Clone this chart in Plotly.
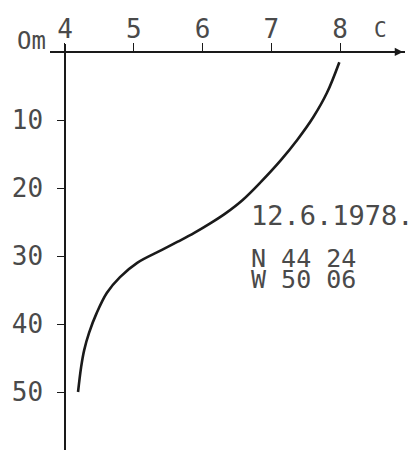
import plotly.graph_objects as go

# Data (temperature profile)
depth_m = [1.5, 6.0, 9.6, 12.9, 15.9, 19.1, 21.8, 23.7, 25.1, 26.6, 27.9, 29.1, 31.0, 33.1, 35.4, 38.4, 41.3, 43.8, 46.3, 50.0]
temp_c = [7.99, 7.81, 7.61, 7.38, 7.14, 6.85, 6.58, 6.34, 6.13, 5.88, 5.64, 5.41, 5.05, 4.80, 4.61, 4.46, 4.35, 4.28, 4.235, 4.19]

x_ticks = [4, 5, 6, 7, 8]
x_tick_text = ["4", "5", "6", "7", "8"]
y_ticks = [10, 20, 30, 40, 50]
y_tick_text = ["10", "20", "30", "40", "50"]

info_lines = ["12.6.1978.", "N 44 24", "W 50 06"]
info_depths = [24.0, 30.3, 33.4]
info_sizes = [27, 25, 25]

FONT = "DejaVu Sans Mono"
TXT = "#4a4a4a"
INK = "#1a1a1a"

fig = go.Figure()
fig.add_trace(go.Scatter(
    x=temp_c, y=depth_m, mode="lines",
    line=dict(color=INK, width=2.6, shape="spline", smoothing=1.0),
    hoverinfo="skip", showlegend=False,
))

# page body adds an 8px offset; plot area sits at window px x 50..405, y 44..450
fig.update_layout(
    width=417, height=450,
    margin=dict(l=42, r=20, t=36, b=8, autoexpand=False),
    paper_bgcolor="white", plot_bgcolor="white",
    showlegend=False,
    xaxis=dict(
        range=[3.782, 8.945], domain=[0, 1], automargin=False,
        side="top", anchor="free", position=0.9803,
        showline=True, linecolor=INK, linewidth=1.5,
        ticks="outside", ticklen=8, tickwidth=1.3, tickcolor=INK,
        tickvals=x_ticks, ticktext=x_tick_text,
        tickfont=dict(family=FONT, size=26, color=TXT),
        ticklabelstandoff=-5,
        showgrid=False, zeroline=False,
    ),
    yaxis=dict(
        range=[58.53, -1.176], automargin=False,
        anchor="free", position=0.04225,
        showline=True, linecolor=INK, linewidth=1.5,
        ticks="outside", ticklen=7, tickwidth=1.3, tickcolor=INK,
        tickvals=y_ticks, ticktext=y_tick_text,
        tickfont=dict(family=FONT, size=26, color=TXT),
        ticklabelstandoff=9,
        showgrid=False, zeroline=False,
    ),
)

# arrow at end of x axis
fig.add_annotation(x=0.9944, y=0.9803, xref="paper", yref="paper", ax=-14, ay=0,
                   text="", showarrow=True, arrowhead=2, arrowsize=1.1, arrowwidth=1.5,
                   arrowcolor=INK)

# axis unit labels
fig.add_annotation(x=-0.005, y=0.968, xref="paper", yref="paper", text="Om", showarrow=False,
                   xanchor="right", yanchor="bottom",
                   font=dict(family=FONT, size=24, color=TXT))
fig.add_annotation(x=0.9296, y=1.0345, xref="paper", yref="paper", text="C", showarrow=False,
                   xanchor="center", yanchor="middle",
                   font=dict(family=FONT, size=21, color=TXT))

for line, d, s in zip(info_lines, info_depths, info_sizes):
    fig.add_annotation(x=6.68, y=d, xref="x", yref="y", text=line, showarrow=False,
                       xanchor="left", yanchor="middle",
                       font=dict(family=FONT, size=s, color=TXT))

fig.write_html("out.html")
